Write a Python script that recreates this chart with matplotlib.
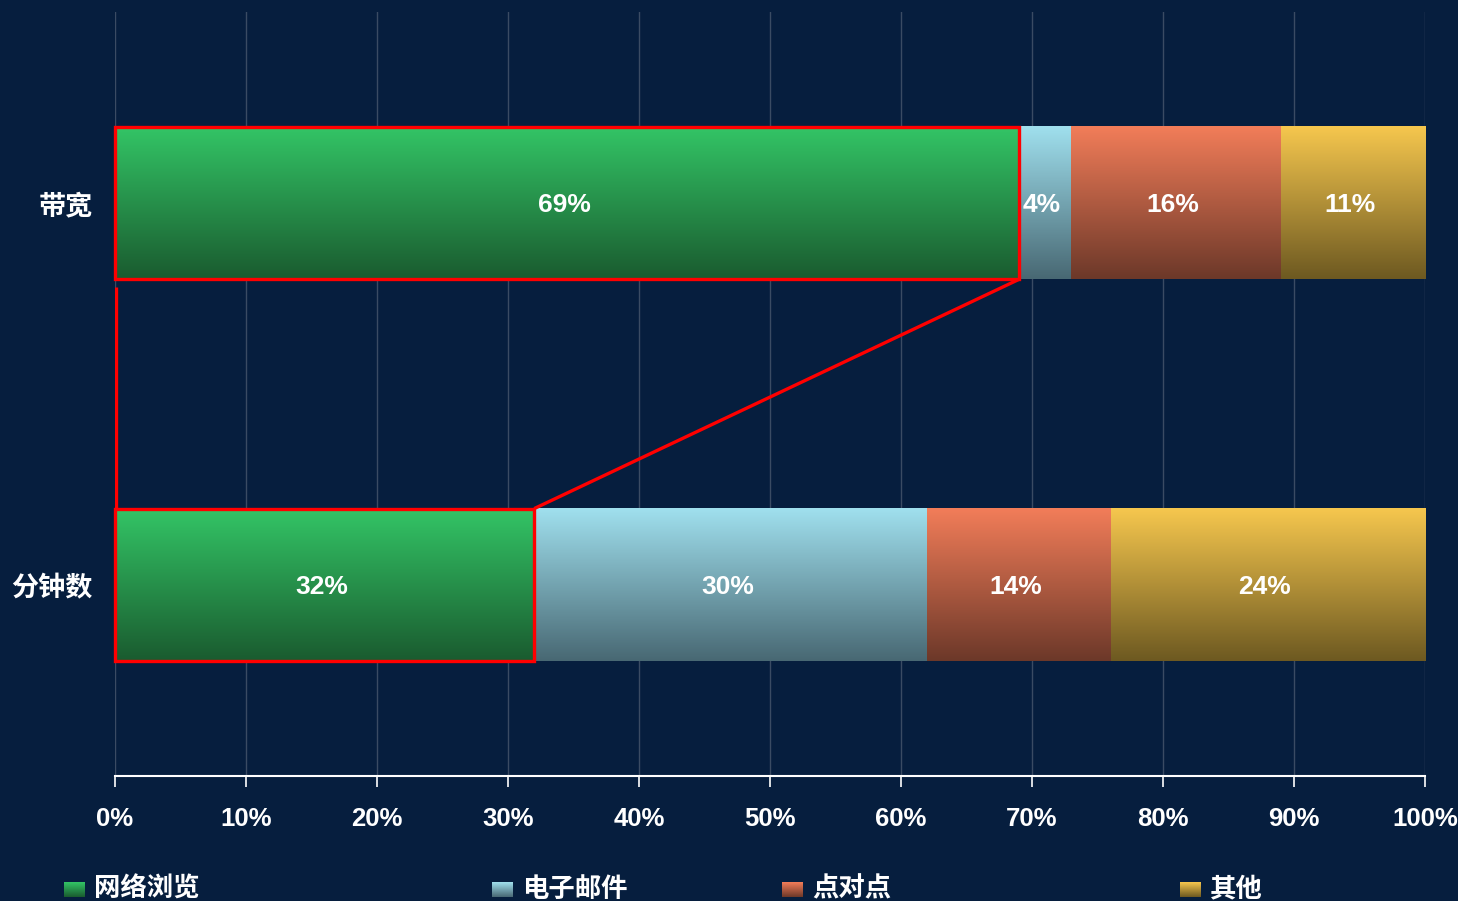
import numpy as np
import matplotlib
matplotlib.use("Agg")
import matplotlib.pyplot as plt
from matplotlib.colors import LinearSegmentedColormap
from matplotlib.patches import Rectangle
from matplotlib import font_manager as fm
import matplotlib.transforms as mtransforms

# find the regular-width Liberation Sans Bold (not Narrow)
bold_path = None
for f in fm.findSystemFonts():
    name = f.split('/')[-1]
    if name == 'LiberationSans-Bold.ttf':
        bold_path = f
        break
if bold_path:
    fp_num = fm.FontProperties(fname=bold_path, size=18.5)
    fp_bar = fm.FontProperties(fname=bold_path, size=19)
else:
    fp_num = fm.FontProperties(family='DejaVu Sans', weight='bold', size=16)
    fp_bar = fm.FontProperties(family='DejaVu Sans', weight='bold', size=17)
fp_cjk = fm.FontProperties(family=['Noto Sans CJK SC'], weight='bold', size=19.5)

categories = ['带宽', '分钟数']
series_names = ['网络浏览', '电子邮件', '点对点', '其他']
values = {
    '带宽':   [69, 4, 16, 11],
    '分钟数': [32, 30, 14, 24],
}
xticks = [0, 10, 20, 30, 40, 50, 60, 70, 80, 90, 100]
xtick_labels = [f'{v}%' for v in xticks]

top_colors = ['#33C566', '#A0E0EE', '#F27D59', '#F6C74E']
bot_colors = ['#1A5B2F', '#486873', '#6C3829', '#6D5921']

BG = '#061E3E'
W, H = 1458, 901
fig = plt.figure(figsize=(W / 100, H / 100), dpi=100, facecolor=BG)
ax = fig.add_axes([115 / W, 1 - 776 / H, (1425 - 115) / W, (776 - 12) / H])
ax.set_facecolor(BG)
ax.set_xlim(0, 100)
ax.set_ylim(-0.5, 1.5)

ypos = {'带宽': 1, '分钟数': 0}
bh = 0.4
grad = np.linspace(0, 1, 256).reshape(-1, 1)
shift = mtransforms.offset_copy(ax.transData, fig=fig, x=-3, y=-2.5, units='dots')

for cat in categories:
    y = ypos[cat]
    left = 0
    for i, v in enumerate(values[cat]):
        cmap = LinearSegmentedColormap.from_list('g', [top_colors[i], bot_colors[i]])
        ax.imshow(grad, cmap=cmap, aspect='auto', extent=[left, left + v, y - bh / 2, y + bh / 2],
                  origin='upper', zorder=2, interpolation='bilinear')
        ax.text(left + v / 2, y, f'{v}%', ha='center', va='center', color='white',
                fontproperties=fp_bar, zorder=5, transform=shift)
        left += v

# red highlight boxes
yb = ypos['带宽']
ym = ypos['分钟数']
vb = values['带宽'][0]
vm = values['分钟数'][0]
for y, v in [(yb, vb), (ym, vm)]:
    ax.add_patch(Rectangle((0, y - bh / 2), v, bh, fill=False, edgecolor='#FF0000',
                           linewidth=2.4, zorder=6, clip_on=False))
ax.plot([vb, vm], [yb - bh / 2, ym + bh / 2], color='#FF0000', lw=2.4, zorder=6,
        solid_capstyle='butt')
ax.plot([0.1, 0.1], [yb - bh / 2 - 0.02, ym + bh / 2], color='#FF0000', lw=2.4, zorder=6,
        solid_capstyle='butt')

ax.set_xticks(xticks)
ax.set_xticklabels(xtick_labels, color='white')
lshift = mtransforms.ScaledTranslation(-3 / 100, 0, fig.dpi_scale_trans)
for lbl in ax.get_xticklabels():
    lbl.set_fontproperties(fp_num)
    lbl.set_transform(lbl.get_transform() + lshift)
ax.tick_params(axis='x', colors='white', length=8, width=1.2, pad=14, labelcolor='white')
ax.set_yticks([ypos[c] for c in categories])
ax.set_yticklabels(categories, color='white')
for lbl in ax.get_yticklabels():
    lbl.set_fontproperties(fp_cjk)
ax.tick_params(axis='y', length=0, pad=16)
ax.grid(axis='x', color='#3A4B63', linewidth=1, zorder=0)
ax.set_axisbelow(True)
for s in ['top', 'right', 'left']:
    ax.spines[s].set_visible(False)
ax.spines['bottom'].set_color('white')
ax.spines['bottom'].set_linewidth(1.5)

# legend
leg_x = [64, 492, 782, 1180]
for i, name in enumerate(series_names):
    x0 = leg_x[i]
    lax = fig.add_axes([x0 / W, 1 - 897 / H, 21 / W, 15 / H])
    cmap = LinearSegmentedColormap.from_list('g', [top_colors[i], bot_colors[i]])
    lax.imshow(grad, cmap=cmap, aspect='auto')
    lax.axis('off')
    fig.text((x0 + 30) / W, 1 - 889 / H, name, color='white', fontsize=19, fontweight='bold',
             family=['Noto Sans CJK SC'], va='center', ha='left')

fig.savefig('out.png', dpi=100, facecolor=BG)
